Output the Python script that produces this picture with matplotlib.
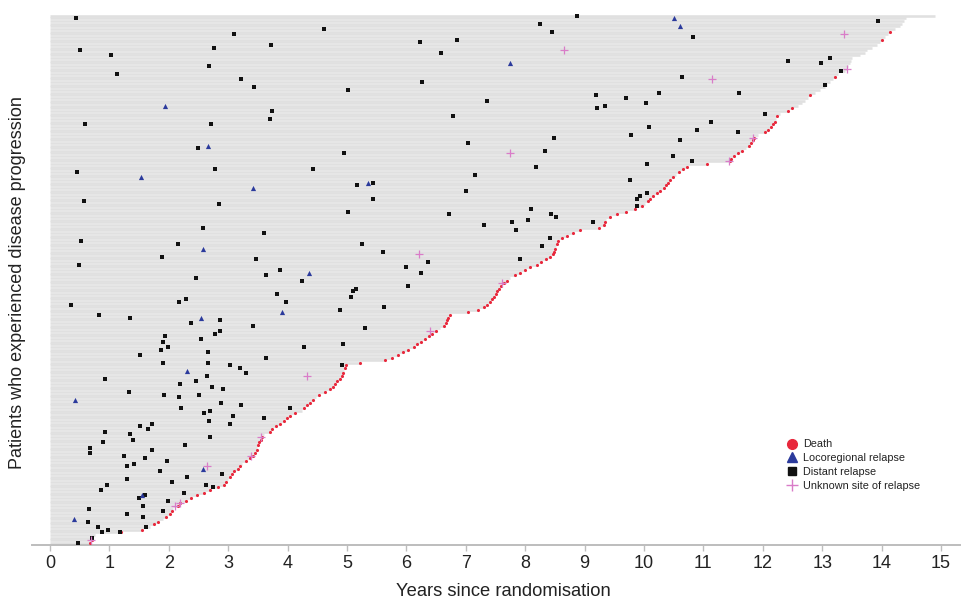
import matplotlib
matplotlib.use("Agg")
import matplotlib.pyplot as plt
from matplotlib.lines import Line2D

plt.rcParams['font.family'] = ['Liberation Sans', 'DejaVu Sans']

# Follow-up (years) per patient, sorted bottom (row 0) to top
followup = [
    0.67, 0.70, 0.73, 0.75, 1.20, 1.55, 1.68, 1.75, 1.82, 1.90,
    1.95, 2.02, 2.05, 2.07, 2.15, 2.19, 2.29, 2.37, 2.47, 2.59,
    2.69, 2.83, 2.93, 2.96, 3.00, 3.03, 3.06, 3.10, 3.16, 3.20,
    3.23, 3.30, 3.37, 3.42, 3.45, 3.48, 3.49, 3.50, 3.52, 3.55,
    3.57, 3.60, 3.70, 3.74, 3.80, 3.87, 3.94, 3.99, 4.04, 4.12,
    4.24, 4.27, 4.33, 4.38, 4.43, 4.48, 4.53, 4.63, 4.71, 4.76,
    4.80, 4.83, 4.88, 4.92, 4.93, 4.95, 4.97, 4.98, 5.22, 5.64,
    5.76, 5.86, 5.94, 6.03, 6.13, 6.18, 6.25, 6.31, 6.38, 6.43,
    6.50, 6.57, 6.63, 6.67, 6.68, 6.70, 6.73, 7.04, 7.21, 7.31,
    7.36, 7.41, 7.44, 7.47, 7.51, 7.52, 7.56, 7.59, 7.64, 7.69,
    7.74, 7.83, 7.91, 8.00, 8.08, 8.20, 8.27, 8.35, 8.42, 8.47,
    8.49, 8.50, 8.52, 8.54, 8.55, 8.62, 8.70, 8.80, 8.92, 9.25,
    9.33, 9.34, 9.36, 9.43, 9.55, 9.70, 9.85, 9.97, 10.02, 10.07,
    10.10, 10.15, 10.22, 10.27, 10.34, 10.37, 10.40, 10.44, 10.49, 10.54,
    10.59, 10.66, 10.72, 11.06, 11.45, 11.46, 11.52, 11.58, 11.65, 11.72,
    11.77, 11.80, 11.84, 11.85, 11.92, 12.04, 12.09, 12.14, 12.17, 12.21,
    12.22, 12.24, 12.29, 12.42, 12.49, 12.59, 12.66, 12.71, 12.76, 12.79,
    12.88, 12.96, 13.05, 13.08, 13.13, 13.18, 13.22, 13.27, 13.38, 13.42,
    13.43, 13.47, 13.49, 13.50, 13.64, 13.72, 13.75, 13.84, 13.92, 13.97,
    14.01, 14.06, 14.11, 14.14, 14.23, 14.31, 14.34, 14.38, 14.41, 14.90,
]

# Patients alive at end of follow-up (no death marker)
censored = [2, 3, 6, 9, 13, 24, 30, 36, 41, 50, 55, 65, 81, 100, 112, 122, 128,
            139, 149, 154, 160, 162, 165, 166, 167, 168, 170, 171, 172, 173,
            174, 175, 177, 178, 179, 180, 181, 182, 183, 184, 185, 186, 187,
            188, 189, 191, 192, 194, 195, 196, 197, 198, 199]

# Distant relapse: (years, patient row)
distant_years = [
    0.43, 3.10, 4.62, 0.50, 1.02, 2.76, 3.72, 2.68, 1.13, 3.22, 3.43, 3.74, 3.70,
    0.59, 2.71, 2.49, 0.45, 2.77, 4.43, 8.88, 8.25, 8.45, 6.23, 6.86, 6.58, 6.27,
    5.02, 7.36, 9.19, 9.21, 9.34, 6.78, 7.03, 8.48, 8.34, 4.95, 8.18, 7.15, 5.44,
    5.16, 7.01, 5.44, 10.82, 12.43, 10.64, 11.60, 10.25, 9.70, 10.04, 12.04, 11.12,
    10.09, 9.78, 10.90, 11.58, 10.60, 10.49, 10.05, 10.80, 9.77, 10.05, 9.93, 9.88,
    9.89, 13.94, 12.98, 13.13, 13.32, 13.05, 0.58, 2.85, 2.57, 3.60, 0.53, 2.15,
    1.89, 3.47, 0.48, 3.87, 3.64, 4.25, 2.46, 3.82, 3.97, 2.18, 2.29, 0.36, 0.82,
    1.34, 4.88, 2.87, 2.37, 3.41, 1.93, 1.90, 2.87, 2.77, 2.54, 1.98, 1.87, 2.66,
    4.28, 1.51, 1.91, 2.66, 3.64, 3.03, 3.20, 3.30, 0.93, 2.46, 2.19, 2.65, 2.72,
    2.91, 1.33, 1.92, 2.51, 2.17, 2.88, 3.21, 2.21, 4.04, 5.02, 6.72, 8.10, 8.43,
    8.52, 8.05, 7.30, 7.78, 7.84, 9.14, 8.42, 5.26, 5.61, 8.28, 6.36, 5.99, 6.25,
    7.92, 6.02, 5.15, 5.10, 5.07, 5.63, 5.31, 4.93, 4.91, 3.60, 2.59, 2.69, 2.67,
    3.08, 3.03, 1.71, 1.51, 1.65, 0.93, 1.35, 1.39, 0.90, 2.27, 2.69, 0.67, 0.68,
    1.25, 1.72, 1.60, 1.97, 1.41, 1.30, 2.89, 1.86, 2.31, 1.30, 2.05, 0.96, 0.86,
    2.62, 2.74, 2.26, 1.60, 1.50, 1.57, 1.98, 0.66, 1.90, 1.30, 1.56, 0.64, 0.80,
    0.98, 0.88, 1.18, 1.61, 0.71, 0.47,
]
distant_rows = [
    198, 192, 194, 186, 184, 187, 188, 180, 177, 175, 172, 163, 160,
    158, 158, 149, 140, 141, 141, 199, 196, 193, 189, 190, 185, 174,
    171, 167, 169, 164, 165, 161, 151, 153, 148, 147, 142, 139, 136,
    135, 133, 130, 191, 182, 176, 170, 170, 168, 166, 162, 159,
    157, 154, 156, 155, 152, 146, 143, 144, 137, 132, 131, 130,
    127, 197, 181, 183, 178, 173, 129, 128, 119, 117, 114, 113,
    108, 107, 105, 103, 101, 99, 100, 94, 91, 91, 92, 90, 86,
    85, 88, 84, 83, 82, 78, 76, 80, 79, 77, 74, 73, 72,
    74, 71, 68, 68, 70, 67, 66, 64, 62, 61, 60, 63, 59,
    58, 57, 56, 56, 55, 53, 52, 51, 51, 125, 124, 126, 124,
    123, 122, 120, 121, 118, 121, 115, 113, 110, 112, 106, 104, 102,
    107, 97, 96, 95, 93, 89, 81, 75, 67, 47, 49, 50, 46,
    48, 45, 45, 44, 43, 42, 41, 39, 38, 37, 40, 36, 34,
    33, 35, 32, 31, 30, 29, 26, 27, 25, 24, 23, 22, 20,
    22, 21, 19, 18, 17, 14, 16, 13, 12, 11, 10, 8, 6,
    5, 4, 4, 6, 2, 0,
]

# Locoregional relapse
loco_years = [1.94, 2.66, 1.54, 3.41, 7.74, 5.35, 10.50, 10.61, 2.58, 4.36,
              3.91, 2.54, 2.31, 0.42, 2.58, 1.55, 0.40]
loco_rows = [165, 150, 138, 134, 181, 136, 198, 195, 111, 102,
             87, 85, 65, 54, 28, 18, 9]

# Unknown site of relapse
unknown_years = [8.65, 7.75, 11.15, 11.84, 11.43, 13.37, 13.41, 6.22, 7.61,
                 6.40, 4.32, 3.56, 3.39, 2.65, 2.19, 2.10, 0.69]
unknown_rows = [186, 147, 175, 153, 144, 192, 179, 109, 98,
                80, 63, 40, 33, 29, 15, 14, 1]

x_ticks = list(range(0, 16))
x_label = "Years since randomisation"
y_label = "Patients who experienced disease progression"
legend_labels = ["Death", "Locoregional relapse", "Distant relapse",
                 "Unknown site of relapse"]

C_LINE = "#e0e0e0"
C_DEATH = "#e8283c"
C_LOCO = "#2b3a9c"
C_DIST = "#111111"
C_UNK = "#d97cc8"

fig = plt.figure(figsize=(9.62, 6.01), dpi=100)
ax = fig.add_axes([32 / 962, 1 - 545 / 601, 928 / 962, 533 / 601])

rows = list(range(len(followup)))
ax.hlines(rows, 0, followup, color=C_LINE, lw=1.85, zorder=1)

death_rows = [r for r in rows if r not in censored]
ax.scatter([followup[r] for r in death_rows], death_rows, s=5, marker='o',
           color=C_DEATH, linewidths=0, zorder=3)
ax.scatter(distant_years, distant_rows, s=9, marker='s', color=C_DIST,
           linewidths=0, zorder=4)
ax.scatter(loco_years, loco_rows, s=14, marker='^', color=C_LOCO,
           linewidths=0, zorder=4)
ax.scatter(unknown_years, unknown_rows, s=30, marker='+', color=C_UNK,
           linewidths=0.9, zorder=5)

ax.set_xlim(-0.303, 15.32)
ax.set_ylim(-0.75, 200.4)
ax.set_xticks(x_ticks)
ax.set_xticklabels([str(t) for t in x_ticks], fontsize=13, color="#222222")
ax.set_yticks([])
for s in ["left", "right", "top"]:
    ax.spines[s].set_visible(False)
ax.spines["bottom"].set_color("#bdbdbd")
ax.spines["bottom"].set_linewidth(1.4)
ax.tick_params(axis='x', direction='out', length=4, width=1, color="#bdbdbd",
               pad=3)
fig.text(503 / 962, 1 - 592 / 601, x_label, fontsize=13.2, color="#222222",
         ha='center', va='center')
fig.text(18 / 962, 1 - 283 / 601, y_label, rotation=90, fontsize=13,
         color="#222222", ha='center', va='center')

handles = [
    Line2D([], [], marker='o', color=C_DEATH, ls='', markersize=7),
    Line2D([], [], marker='^', color=C_LOCO, ls='', markersize=7),
    Line2D([], [], marker='s', color=C_DIST, ls='', markersize=6),
    Line2D([], [], marker='+', color=C_UNK, ls='', markersize=9, mew=1),
]
fig.legend(handles, legend_labels, loc='upper left',
           bbox_to_anchor=(780 / 962, 1 - 434 / 601), frameon=False,
           fontsize=7.8, handletextpad=0.45, labelspacing=0.35,
           handlelength=1.2, borderpad=0, labelcolor="#222222")

fig.savefig("out.png", dpi=100, facecolor="white")
